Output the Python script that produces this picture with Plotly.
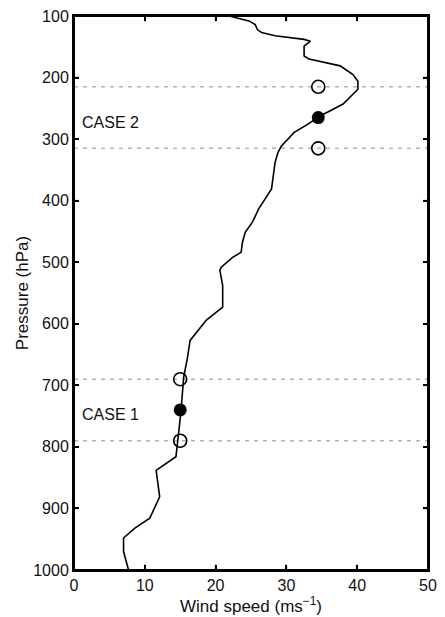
import plotly.graph_objects as go

# Vertical wind-speed profile (ms^-1) against pressure (hPa)
wind_speed = [21.9, 22.9, 24.7, 25.6, 25.9, 26.5, 28.4, 32.5, 33.4, 32.5, 32.5, 33.2,
              35.7, 37.6, 39.4, 40.1, 40.1, 39.2, 38.0, 36.2, 34.8, 33.0, 31.1, 29.3,
              28.8, 28.4, 28.1, 27.9, 27.0, 26.1, 25.2, 24.2, 23.8, 23.6, 22.4, 20.8,
              20.6, 21.0, 21.0, 18.7, 16.4, 16.0, 15.5, 15.3, 15.1, 14.8, 14.6, 14.4,
              11.6, 11.8, 12.1, 10.7, 8.6, 7.0, 7.0, 7.7]
pressure = [100, 103, 108, 114, 122, 127, 132, 138, 141, 149, 165, 170,
            176, 181, 195, 206, 219, 230, 243, 254, 262, 276, 289, 311,
            322, 338, 365, 381, 397, 413, 435, 451, 467, 484, 492, 508,
            513, 538, 573, 594, 627, 657, 686, 721, 743, 775, 794, 816,
            838, 856, 881, 916, 932, 948, 970, 1000]

# Case layers: centre level (filled) and bounding levels (open, dashed)
case_names = ["CASE 1", "CASE 2"]
case_speed = [15.0, 34.5]
case_centre = [740, 265]
case_top = [690, 215]
case_bottom = [790, 315]

x_ticks = [0, 10, 20, 30, 40, 50]
y_ticks = [100, 200, 300, 400, 500, 600, 700, 800, 900, 1000]

FONT = "Liberation Sans, Arial, Helvetica, sans-serif"
X_RANGE = [0, 50]
Y_RANGE = [1000, 100]
TICK_DX = 0.7   # inward tick length along the wind-speed axis
TICK_DP = 8.5   # inward tick length along the pressure axis

fig = go.Figure()

# Dashed level boundaries across the full width
for lvl in case_top + case_bottom:
    fig.add_shape(type="line", xref="paper", yref="y", x0=0, x1=1, y0=lvl, y1=lvl,
                  line=dict(color="#b4b4b4", width=1.5, dash="4px,5px"), layer="below")

# Box around the plotting area
fig.add_shape(type="rect", xref="paper", yref="paper", x0=0, x1=1, y0=0, y1=1,
              line=dict(color="black", width=2), layer="above")

# Inward tick marks on all four sides, built from the tick lists
tx, ty = [], []
for v in x_ticks[1:-1]:
    tx += [v, v, None, v, v, None]
    ty += [Y_RANGE[0], Y_RANGE[0] - TICK_DP, None, Y_RANGE[1], Y_RANGE[1] + TICK_DP, None]
for v in y_ticks[1:-1]:
    tx += [X_RANGE[0], X_RANGE[0] + TICK_DX, None, X_RANGE[1] - TICK_DX, X_RANGE[1], None]
    ty += [v, v, None, v, v, None]
fig.add_trace(go.Scatter(x=tx, y=ty, mode="lines", line=dict(color="black", width=1.5),
                         hoverinfo="skip", showlegend=False))

fig.add_trace(go.Scatter(x=wind_speed, y=pressure, mode="lines",
                         line=dict(color="black", width=1.6), showlegend=False))

fig.add_trace(go.Scatter(x=case_speed + case_speed, y=case_top + case_bottom,
                         mode="markers", showlegend=False,
                         marker=dict(symbol="circle-open", size=13, color="black",
                                     line=dict(width=1.6))))
fig.add_trace(go.Scatter(x=case_speed, y=case_centre, mode="markers", showlegend=False,
                         marker=dict(symbol="circle", size=13, color="black")))

for name, lvl in zip(case_names, case_centre):
    fig.add_annotation(x=0.8, y=lvl + 8, text=name, showarrow=False, xanchor="left",
                       yanchor="middle", font=dict(family=FONT, size=16, color="#111"))


def axis_style(**extra):
    style = dict(showgrid=False, zeroline=False, showline=True, linecolor="#000000",
                 linewidth=2, mirror="ticks", ticks="inside", ticklen=5, tickwidth=1.5,
                 tickcolor="#000000",
                 tickfont=dict(family=FONT, size=16, color="#111"))
    style.update(extra)
    return style


fig.update_layout(
    width=445, height=617, plot_bgcolor="white", paper_bgcolor="white",
    margin=dict(l=74, r=8, t=16, b=45), showlegend=False,
    xaxis=axis_style(range=X_RANGE, tickmode="array", tickvals=x_ticks,
                     ticktext=[str(v) for v in x_ticks],
                     title=dict(text="Wind speed (ms<sup>\u22121</sup>)", standoff=3,
                                font=dict(family=FONT, size=17, color="#111"))),
    yaxis=axis_style(range=Y_RANGE, tickmode="array", tickvals=y_ticks,
                     ticktext=[str(v) for v in y_ticks],
                     title=dict(text="Pressure (hPa)", standoff=0,
                                font=dict(family=FONT, size=17, color="#111"))),
)

fig.write_html("out.html")
